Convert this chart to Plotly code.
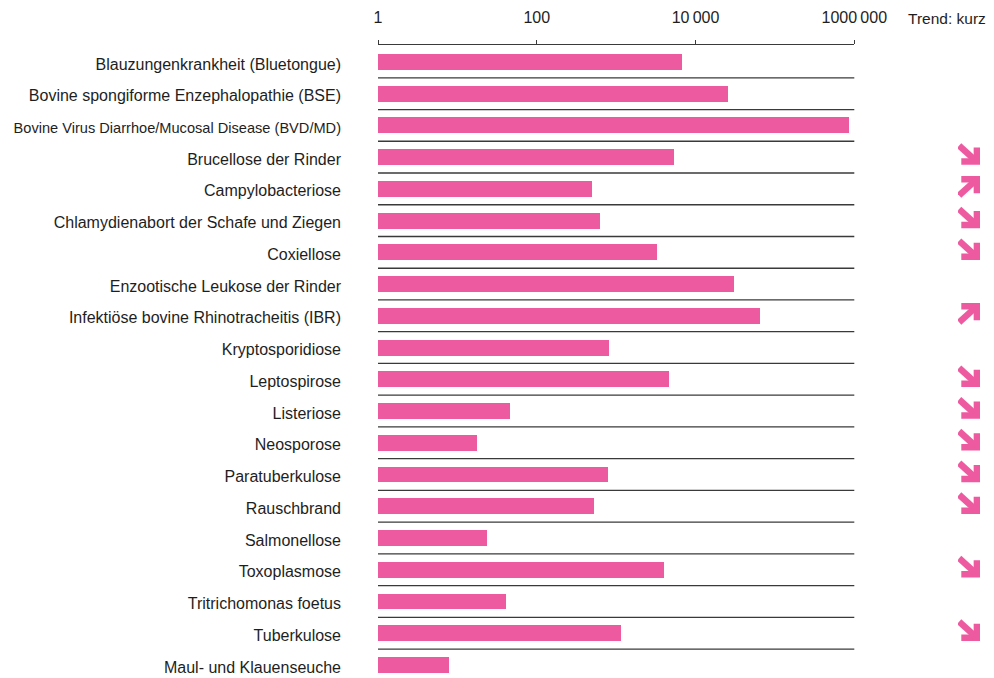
import plotly.graph_objects as go

# ---------------- data ----------------
categories = [
    "Blauzungenkrankheit (Bluetongue)",
    "Bovine spongiforme Enzephalopathie (BSE)",
    "Bovine Virus Diarrhoe/Mucosal Disease (BVD/MD)",
    "Brucellose der Rinder",
    "Campylobacteriose",
    "Chlamydienabort der Schafe und Ziegen",
    "Coxiellose",
    "Enzootische Leukose der Rinder",
    "Infektiöse bovine Rhinotracheitis (IBR)",
    "Kryptosporidiose",
    "Leptospirose",
    "Listeriose",
    "Neosporose",
    "Paratuberkulose",
    "Rauschbrand",
    "Salmonellose",
    "Toxoplasmose",
    "Tritrichomonas foetus",
    "Tuberkulose",
    "Maul- und Klauenseuche",
]
values = [6740, 25600, 855000, 5350, 496, 625, 3270, 30500, 64700, 811,
          4620, 44.7, 16.7, 788, 525, 22.9, 4000, 39.8, 1150, 6.8]
trend = ["", "", "", "down", "up", "down", "down", "", "up", "",
         "down", "down", "down", "down", "down", "", "down", "", "down", ""]
tick_vals = [1, 100, 10000, 1000000]
tick_labels = ["1", "100", "10\u2009000", "1000\u2009000"]
trend_title = "Trend: kurz"

# ---------------- style ----------------
OFF = 8  # page body margin of the browser
W, H = 994, 678
ML, MT = 378 - OFF, 45 - OFF
PLOT_W = W - ML
PLOT_H = H - MT
X_END_PX = 854.3 - OFF
ROW_PX = 31.74
Y_TOP = -0.533
PINK = "#EE5AA0"
TEXT = "#1e1e1e"
LINE = "#3a3a3a"
FONT = "Liberation Sans"

n = len(categories)
ypos = list(range(n))
ticktext = [c if len(c) < 44 else '<span style="font-size:14.6px">%s</span>' % c
            for c in categories]

fig = go.Figure()
fig.add_trace(go.Bar(
    x=values, y=ypos, base=1, orientation="h",
    marker=dict(color=PINK, line=dict(width=0)),
    width=0.5, xaxis="x", yaxis="y", hoverinfo="skip", showlegend=False,
))

# trend arrows (glyph template in a 0..1 box, y downward)
shaft = [(0.05, 0.05), (0.80, 0.80)]
head = [(0.15, 0.85), (0.86, 0.85), (0.86, 0.15)]
ax, ay = [], []
for i, t in enumerate(trend):
    if not t:
        continue
    for seg in (head, shaft):
        for (lx, ly) in seg:
            if t == "up":
                ly = 1 - ly
            ax.append(lx)
            ay.append(i - 0.08 + (ly - 0.5) * 0.63)
        ax.append(None)
        ay.append(None)
fig.add_trace(go.Scatter(
    x=ax, y=ay, mode="lines", line=dict(color=PINK, width=6.5),
    connectgaps=False,
    xaxis="x2", yaxis="y", hoverinfo="skip", showlegend=False,
))

# separator lines between rows
shapes = []
for i in range(n - 1):
    shapes.append(dict(type="line", xref="x domain", yref="y",
                       x0=0, x1=1, y0=i + 0.5, y1=i + 0.5,
                       line=dict(color=LINE, width=1.3)))

fig.update_layout(
    width=W, height=H,
    margin=dict(l=ML, r=0, t=MT, b=0, pad=0, autoexpand=False),
    paper_bgcolor="white", plot_bgcolor="white",
    bargap=0,
    shapes=shapes,
    xaxis=dict(
        type="log", range=[0, 6], domain=[0, (X_END_PX - ML) / PLOT_W],
        side="top", anchor="y",
        tickvals=tick_vals, ticktext=tick_labels,
        ticks="outside", ticklen=4, tickwidth=1.2, tickcolor=LINE,
        showline=True, linecolor=LINE, linewidth=1.3,
        showgrid=False, zeroline=False,
        tickfont=dict(family=FONT, size=16, color=TEXT),
        ticklabelstandoff=10, automargin=False,
        fixedrange=True,
    ),
    xaxis2=dict(
        range=[0, 1],
        domain=[(958 - OFF - ML) / PLOT_W, (980 - OFF - ML) / PLOT_W],
        anchor="y", visible=False, fixedrange=True, automargin=False,
    ),
    yaxis=dict(
        range=[Y_TOP + PLOT_H / ROW_PX, Y_TOP], tickvals=ypos, ticktext=ticktext,
        showgrid=False, zeroline=False, showline=False, ticks="",
        tickfont=dict(family=FONT, size=16, color=TEXT),
        ticklabelstandoff=36, ticklabelshift=-2, automargin=False,
        fixedrange=True,
    ),
    annotations=[dict(
        text=trend_title, xref="paper", yref="paper",
        x=(988 - OFF - ML) / PLOT_W, y=1 + (MT - (18 - OFF)) / PLOT_H,
        xanchor="right", yanchor="middle", showarrow=False,
        font=dict(family=FONT, size=15.5, color=TEXT),
    )],
)

fig.write_html("out.html")
